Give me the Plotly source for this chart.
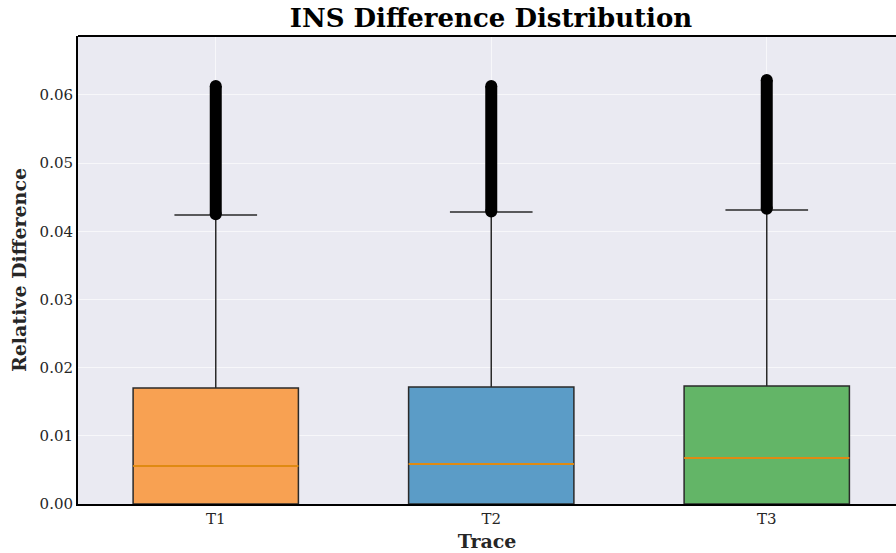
import plotly.graph_objects as go

traces = ["T1", "T2", "T3"]
positions = [1, 2, 3]
q1 = [0.0, 0.0, 0.0]
medians = [0.00557, 0.00587, 0.00675]
q3 = [0.01702, 0.01716, 0.01731]
lower_fence = [0.0, 0.0, 0.0]
upper_fence = [0.04239, 0.04283, 0.04313]
outlier_min = [0.0425, 0.0429, 0.0433]
outlier_max = [0.0613, 0.0613, 0.0622]
fill_colors = ["#F8A152", "#5B9CC7", "#63B567"]
y_ticks = [0.0, 0.01, 0.02, 0.03, 0.04, 0.05, 0.06]

BOX_W = 0.6
FONT = "DejaVu Serif"

fig = go.Figure()
for i, name in enumerate(traces):
    fig.add_trace(go.Box(
        x=[positions[i]], q1=[q1[i]], median=[medians[i]], q3=[q3[i]],
        lowerfence=[lower_fence[i]], upperfence=[upper_fence[i]],
        name=name, width=BOX_W, whiskerwidth=0.5, boxpoints=False,
        fillcolor=fill_colors[i], line=dict(color="#2a2a2a", width=1.5),
        showlegend=False, hoverinfo="skip",
    ))
    # median line
    fig.add_trace(go.Scatter(
        x=[positions[i] - BOX_W / 2, positions[i] + BOX_W / 2],
        y=[medians[i], medians[i]], mode="lines",
        line=dict(color="#E08A12", width=2), showlegend=False, hoverinfo="skip",
    ))
    # outliers (dense column)
    fig.add_trace(go.Scatter(
        x=[positions[i], positions[i]], y=[outlier_min[i], outlier_max[i]],
        mode="lines+markers", line=dict(color="black", width=12),
        marker=dict(color="black", size=12), showlegend=False, hoverinfo="skip",
    ))

fig.update_layout(
    width=896, height=553,
    margin=dict(l=78, r=0, t=36, b=49),
    paper_bgcolor="white", plot_bgcolor="#EAEAF2",
    font=dict(family=FONT, color="#262626", size=15),
    title=dict(text="<b>INS Difference Distribution</b>", x=0.548, xref="container",
               xanchor="center", y=0.968, yanchor="middle",
               font=dict(family=FONT, size=26, color="black")),
)
fig.update_xaxes(
    range=[0.5, 0.5 + (896 - 78) / 275.5],
    tickmode="array", tickvals=positions, ticktext=traces,
    showgrid=True, gridcolor="rgba(255,255,255,0.6)", gridwidth=1,
    showline=True, linecolor="black", linewidth=2, mirror=False,
    ticks="", zeroline=False,
    title=dict(text="<b>Trace</b>", font=dict(family=FONT, size=19, color="#262626"), standoff=8),
)
fig.update_yaxes(
    range=[0, 0.06865],
    tickmode="array", tickvals=y_ticks, tickformat=".2f",
    showgrid=True, gridcolor="rgba(255,255,255,0.6)", gridwidth=1,
    showline=True, linecolor="black", linewidth=2,
    ticks="", zeroline=False,
    title=dict(text="<b>Relative Difference</b>", font=dict(family=FONT, size=19, color="#262626"), standoff=8),
)
# top spine
fig.add_shape(type="line", xref="paper", yref="paper", x0=0, x1=1, y0=1, y1=1,
              line=dict(color="black", width=2))

fig.write_html("out.html", config={"displayModeBar": False},
               post_script="document.body.style.margin='0';document.body.style.overflow='hidden';")
